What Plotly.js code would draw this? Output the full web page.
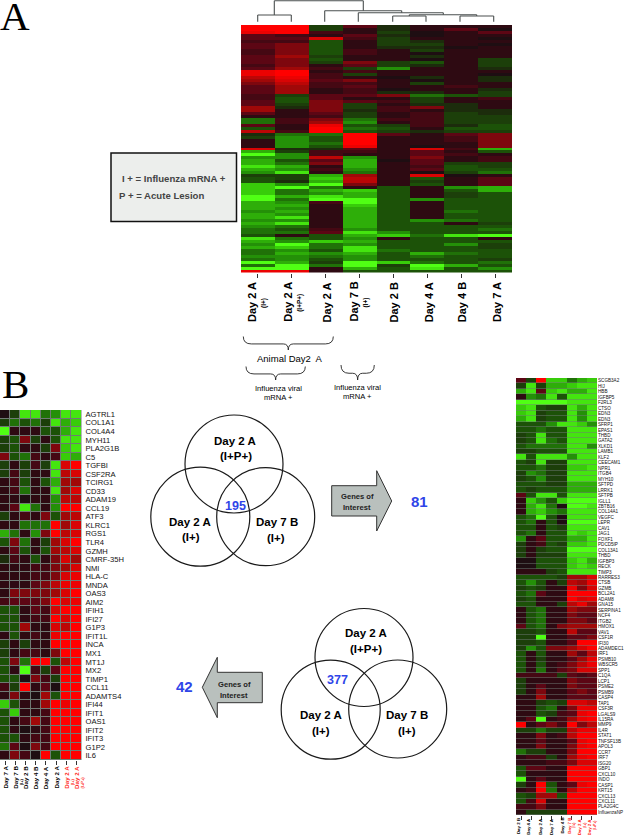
<!DOCTYPE html>
<html><head><meta charset="utf-8">
<script src="https://cdn.plot.ly/plotly-3.0.1.min.js"></script>
<style>html,body{margin:0;padding:0;background:#fff}</style>
</head><body><div id="chart" style="width:624px;height:835px"></div>
<script>
// ---------- data ----------
const topColumns = ['Day 2 A','Day 2 A','Day 2 A','Day 7 B','Day 2 B','Day 4 A','Day 4 B','Day 7 A'];
const topColumnNotes = ['(I+)','(I+P+)','','(I+)','','','',''];
const topValues = [
[9,9,-2,3,-1,1,1,1],[9,9,-2,1,-1,1,3,0],[8,9,2,1,-2,0,1,3],[3,2,1,3,-1,0,1,1],[3,3,7,2,-2,1,1,0],
[2,2,-3,1,-2,-1,1,1],[3,4,-3,1,-2,-2,1,0],[3,4,-3,1,-1,-1,0,1],[2,4,-3,2,1,-2,1,1],
[2,4,-3,2,1,0,1,1],[3,5,-2,1,1,-1,1,1],[3,4,-3,1,1,0,1,-2],[3,4,-2,4,-2,-3,1,-2],[2,4,1,3,-2,-1,1,-2],
[3,5,2,-2,-5,1,1,-1],[8,9,1,2,1,1,1,1],[8,9,2,-2,1,1,1,0],[6,8,2,1,0,-1,1,-1],[5,7,3,4,1,0,1,-1],
[4,6,2,2,1,-2,1,1],[3,5,2,3,1,1,2,1],[3,5,1,2,0,1,1,-1],[3,5,1,2,-1,-1,1,-2],
[2,-2,3,3,4,-4,-3,-2],[2,-3,3,1,1,-2,1,2],[3,-3,4,3,2,-2,1,1],[3,-2,4,-2,1,-1,-1,1],
[5,-1,4,-2,2,4,-1,1],[5,1,4,-1,2,1,-1,-1],[3,1,3,-2,1,2,-2,-1],[1,1,2,-2,1,2,-2,-2],[-4,2,4,-4,2,2,-2,-2],
[-4,2,5,-5,1,2,-2,-2],[3,1,8,-3,-2,2,-1,-3],[-3,1,9,-4,-3,1,-3,-3],[6,2,9,-3,-2,-1,-2,-2],
[-1,-4,-4,9,3,1,3,4],[-2,-5,-3,9,1,1,2,4],[1,-5,-3,9,1,1,2,4],[1,-5,-4,9,1,1,1,4],[1,-5,-3,8,1,0,1,4],
[7,-1,-1,3,1,7,2,-6],[-6,-2,2,2,1,3,1,-3],[-9,-5,2,1,1,3,2,1],[-5,-5,6,-5,1,4,1,2],[-6,-3,3,-6,0,3,1,2],
[-6,-4,4,-6,1,3,-2,-2],[-8,-6,1,-6,1,2,-3,-2],[-6,-5,2,-5,1,3,-3,-3],[-5,-8,1,-4,1,0,-2,-4],[-2,-2,-6,5,1,7,0,1],
[-3,-2,-7,6,1,-3,1,3],[-3,-1,-6,6,1,-2,1,3],[-7,-5,-9,4,1,-3,1,3],[-7,-9,-4,1,-3,1,-5,-6],[-7,-4,-6,-7,-3,1,-3,-6],
[-7,-4,-5,-6,-3,1,-2,-3],[-9,-6,-8,-6,-3,1,-2,-3],[-9,-4,-9,-9,-3,-5,-3,-3],[-6,-5,2,-9,-3,1,-3,-3],[-6,-6,1,-7,-3,1,-3,-3],[-6,-5,1,-6,-3,1,-3,-3],
[-5,-6,1,-6,-3,1,-4,-3],[-6,-5,1,-6,-3,1,-3,-3],[-6,-8,1,-6,-3,1,-3,-3],[-5,-5,1,-6,-3,-5,-4,-3],[-6,-8,1,-6,-3,-3,1,-2],[-5,-4,1,-6,-3,-3,-3,-3],[-4,-3,2,-5,-3,-3,-3,-4],
[-4,-4,3,-8,-5,-3,-3,-3],[-3,1,-3,-6,-7,-4,-8,-9],[-8,-4,-3,-5,1,-3,-3,1],[-6,-5,-7,-6,-3,-3,-3,-3],[-5,-9,-4,-5,-3,-3,-5,-2],
[-6,-7,-4,-8,-3,-3,-3,-2],[-4,-5,-3,-8,-4,-3,-3,-3],[-4,-6,-5,-6,-3,-6,-4,-3],[-5,-5,-4,-5,-3,-4,-3,-3],[-4,-5,-3,-5,-3,-3,-3,-2],[-9,-6,-2,-9,-7,-4,-3,-4],
[-4,-9,-4,-9,-2,-9,-6,-3],[-9,-9,1,-6,-3,-8,-3,-5],[8,8,1,-3,-3,-3,-3,-3]
];

const leftGenes = ['AGTRL1','COL1A1','COL4A4','MYH11','PLA2G1B','C5','TGFBI','CSF2RA','TCIRG1','CD33','ADAM19','CCL19','ATF3','KLRC1','RGS1','TLR4','GZMH','CMRF-35H','NMI','HLA-C','MNDA','OAS3','AIM2','IFIH1','IFI27','G1P3','IFIT1L','INCA','MX1','MT1J','MX2','TIMP1','CCL11','ADAMTS4','IFI44','IFIT1','OAS1','IFIT2','IFIT3','G1P2','IL6'];
const leftColumns = ['Day 7 A','Day 7 B','Day 2 B','Day 4 B','Day 4 A','Day 2 A','Day 2 A','Day 2 A'];
const leftColumnNotes = ['','(I+)','','','','','(I+)','(I+P+)'];
const leftValues = [
[0,-2,-8,-8,-4,-5,-8,-8],[-2,-4,-3,-4,-2,-8,-6,-7],[-9,1,1,1,-3,-3,-6,-8],[-2,-3,4,-2,1,-3,-8,-8],[-2,-3,1,1,-2,4,-7,-8],
[4,-3,-4,2,1,2,-7,-6],[-2,1,-2,2,-2,-8,7,9],[-2,2,-2,1,1,-8,6,7],[1,2,-3,1,-3,-6,5,5],[1,2,-4,1,1,-8,5,7],
[1,1,0,1,1,-5,6,6],[1,3,-8,-4,1,-5,9,9],[-2,1,2,1,4,-3,5,6],[1,1,-4,-4,-4,9,5,7],[-6,-4,1,-5,4,9,6,7],
[-3,4,-4,1,-2,5,7,9],[1,3,-3,1,-3,5,6,7],[-1,2,1,-3,1,4,7,5],[1,1,1,2,2,4,5,7],[1,1,1,2,2,4,7,8],
[1,1,1,3,4,6,8,8],[1,4,4,4,4,5,7,9],[2,3,3,3,4,9,7,8],[-3,-3,1,3,2,7,9,9],[-3,-3,1,2,2,9,7,9],
[-3,-3,5,1,1,7,6,9],[1,-3,1,2,1,8,9,9],[-2,1,-2,1,1,9,9,9],[-2,1,2,2,1,4,9,9],[-3,4,-4,9,9,-3,6,9],
[-3,1,-9,2,-2,3,9,9],[-3,-3,0,4,2,-2,9,9],[2,-2,9,1,3,0,9,9],[1,4,1,0,5,-3,9,9],[-7,-3,1,1,5,9,8,9],
[-3,-7,1,1,2,9,9,9],[-3,1,2,5,2,9,9,9],[-3,1,0,1,2,9,9,9],[-3,-3,1,2,2,9,9,9],[-4,3,0,4,2,9,9,9],[1,4,2,0,9,-3,9,9]
];

const rightGenes = ['SCGB3A2','HIJ','HBB','IGFBP5','F2RL3','CTSO','EDN3','EDN3','SFRP1','EPAS1','THBD','GATA2','XLKD1','LAMB1','KLF2','CEECAM1','NPR1','ITGB4','MYH10','SFTPD','LRRK1','SFTPB','IGLL1','ZBTB16','COL14A1','VEGFC','LEPR','CAV1','JAG1','FOXF1','PDCD5IP','COL13A1','THBD','IGFBP3','RECK','TIMP3','RARRES3','CTSB','GZMB','BCL2A1','ADAM8','GNA15','SERPINA1','NCF4','ITGB2','HMOX1','VAV1','CSF1R','IFI30','ADAMDEC1','IRF1','PSMB10','WBSCR5','SPP1','C1QA','LCP1','PSME2','PSMB9','CASP4','TAP1','CSF3R','LGALS9','IL15RA','MMP9','IL4R','STAT1','TNFSF13B','APOL3','CCR7','IRF7','ISG20','GBP1','CXCL10','INDO','CASP1','KRT15','CXCL13','CXCL11','PLA2G4C','InfluenzaNP'];
const rightColumns = ['Day 2 B','Day 4 A','Day 2 A','Day 7 A','Day 4 B','Day 7 B','Day 2 A','Day 2 A'];
const rightColumnNotes = ['','','','','','(I+)','(I+)','(I+P+)'];
const rightValues = [
[3,-2,9,-7,-7,-4,-6,-7],[-2,-8,-2,-6,-6,-7,-8,-8],[-6,-8,3,-7,-8,-6,-6,-8],[1,-5,-4,-8,-3,-8,-8,-8],[-9,-9,-9,-9,-9,-8,-8,-8],
[-7,-8,-3,-2,-2,-8,-6,-8],[-7,-8,-2,-3,-3,-8,-5,-8],[-6,-8,-2,-3,-3,-8,-5,-8],[-3,-3,-3,-5,-8,-8,-7,-5],[-3,-3,-4,-3,-3,-8,-8,-8],
[-2,-3,-8,-3,-3,-8,-8,-8],[-2,-3,-8,-4,-3,-8,-8,-8],[-3,-4,-4,-4,-4,-8,-8,-5],[-2,-2,-3,-3,-3,-8,-8,-8],[-8,-3,-8,-8,-8,-5,-8,-8],
[-3,-2,-8,-2,-2,-8,-8,-8],[-3,-3,-4,-2,-2,-7,-7,-8],[-2,-5,-4,-2,-2,-8,-8,-8],[-2,-3,-5,-2,-2,-8,-8,-8],[-3,-3,-3,-2,-2,-6,-6,-6],
[-3,-2,-3,-3,-3,-6,-6,-6],[3,-3,-8,-8,-3,-8,-8,-8],[1,-7,-5,-3,-7,-9,-9,-9],[1,-6,-8,-4,0,-9,-9,-8],[1,-6,-7,-5,-4,-8,-8,-8],
[-3,-4,-9,-3,0,-8,-8,-8],[-3,-4,1,-3,0,-9,-9,-9],[-3,-3,1,-3,-2,-8,-8,-8],[-3,-4,1,-3,-3,-8,-7,-8],[-5,1,3,-3,-3,-6,-6,-8],
[-2,1,2,-3,-2,-7,-7,-8],[-2,1,-2,-3,-3,-9,-9,-9],[-2,1,-2,-2,-2,-8,-8,-8],[0,0,-3,-3,-3,-7,-8,-6],[0,0,-3,-3,-3,-7,-8,-7],
[1,1,1,-2,-3,-8,-8,-8],[-3,-3,-3,-3,-2,5,5,7],[-3,-5,-3,1,-2,6,5,8],[-2,-3,-2,1,1,8,4,7],[-3,-4,3,1,1,9,9,9],
[-2,-3,1,1,1,9,7,8],[-3,-3,1,1,-2,6,8,5],[1,-3,-4,1,1,5,4,4],[1,-3,-4,1,1,4,3,3],[1,-3,-4,1,1,4,4,3],
[3,-3,-4,1,4,5,5,5],[-2,-2,-3,1,1,6,3,3],[-2,-2,-9,1,1,3,3,4],[-2,-2,-3,1,1,3,9,9],[-2,-5,-3,4,4,5,7,9],
[-3,1,-3,1,1,5,3,6],[-3,1,-2,1,1,3,5,8],[-3,1,-3,1,2,4,6,8],[-3,1,-4,1,3,4,7,7],[2,2,2,2,-2,3,2,3],
[-2,1,1,1,1,4,3,3],[-2,1,3,1,1,4,3,3],[-2,1,4,1,1,3,4,3],[1,1,5,1,1,3,3,3],[1,1,-2,-3,-2,7,7,6],
[1,1,-3,-4,1,4,8,8],[1,1,-3,-2,2,3,8,9],[1,3,-9,1,2,5,8,9],[9,1,3,4,2,9,4,6],[-2,-2,-4,-2,-2,6,8,8],
[1,1,4,1,2,6,9,9],[1,1,3,1,1,3,8,9],[1,1,4,1,1,4,8,9],[-4,-2,-2,1,1,4,9,9],[1,2,2,-2,1,5,8,9],
[1,1,1,2,2,4,7,7],[-3,3,3,1,1,9,9,9],[-3,1,1,1,1,9,9,9],[-9,1,3,1,1,9,9,9],[-2,1,9,-3,1,3,8,9],
[1,2,9,-4,1,6,9,9],[-3,-2,5,5,-3,9,9,9],[-3,2,7,1,1,9,9,9],[2,2,4,1,1,9,9,9],[1,-2,-2,-2,-2,9,9,9]
];

// ---------- page geometry ----------
const W = 624, H = 835;
const SANS = 'Liberation Sans, Arial, sans-serif';
const RED = '#ff2a1a', BLUE = '#2f45e8';
const colorscale = [[0,'#50ff14'],[0.111,'#38cc0a'],[0.222,'#249008'],[0.333,'#1c5208'],[0.444,'#1c2c0c'],[0.5,'#1e0e12'],
  [0.556,'#2e0a12'],[0.667,'#5c0614'],[0.778,'#a00808'],[0.889,'#d80404'],[1,'#ff0000']];
const xDom = (a,b) => [a/W, b/W];
const yDom = (top,bottom) => [1-bottom/H, 1-top/H];
const idx = n => Array.from({length:n},(_,i)=>i);

const panels = {
  top:   {x:[241,512], y:[25,272.5]},
  left:  {x:[0,81.5],  y:[410,760]},
  right: {x:[516,597], y:[378,815]}
};

function heat(z, xa, ya, xgap, ygap){
  return {type:'heatmap', z:z, x:idx(z[0].length), y:idx(z.length), xaxis:xa, yaxis:ya,
    colorscale:colorscale, zmin:-9, zmax:9, showscale:false, xgap:xgap, ygap:ygap, hoverinfo:'skip'};
}

// dendrogram, in page pixels on the overlay axes
const dendroSegments = [
 [274.3,0.7,363.3,0.7],[274.3,0.7,274.3,15],[363.3,0.7,363.3,10.7],
 [257.7,15,291.3,15],[257.7,15,257.7,21.7],[291.3,15,291.3,21.7],
 [324.7,10.7,401.7,10.7],[324.7,10.7,324.7,21.7],[401.7,10.7,401.7,12.7],
 [358.3,12.7,443.3,12.7],[358.3,12.7,358.3,21.7],[443.3,12.7,443.3,14.7],
 [409.3,14.7,476.7,14.7],[409.3,14.7,409.3,16],[476.7,14.7,476.7,16],
 [392.7,16,426,16],[392.7,16,392.7,21.7],[426,16,426,21.7],
 [460,16,493.7,16],[460,16,460,21.7],[493.7,16,493.7,21.7]
];
const dendroX = [], dendroY = [];
dendroSegments.forEach(s=>{dendroX.push(s[0],s[2],null);dendroY.push(s[1],s[3],null);});

const traces = [
  heat(topValues,'x','y',0,0),
  heat(leftValues,'x2','y2',1,1),
  heat(rightValues,'x3','y3',0,0.5),
  {type:'scatter',mode:'lines',x:dendroX,y:dendroY,xaxis:'x4',yaxis:'y4',line:{color:'#4a4f4f',width:1.1},hoverinfo:'skip',showlegend:false}
];

function hAxis(p,anchor){
  return {domain:xDom(p.x[0],p.x[1]), range:[-0.5,7.5], anchor:anchor, showgrid:false, zeroline:false,
    tickmode:'array', tickvals:idx(8), ticktext:idx(8).map(()=>''), ticks:'outside', ticklen:4, tickwidth:1, tickcolor:'#333', showline:false};
}
function vAxis(p,anchor,genes,size,standoff){
  const a = {domain:yDom(p.y[0],p.y[1]), anchor:anchor, showgrid:false, zeroline:false, showline:false};
  if(genes){
    a.range=[genes.length-0.5,-0.5]; a.side='right'; a.tickmode='array'; a.tickvals=idx(genes.length); a.ticktext=genes;
    a.ticks=''; a.ticklabelstandoff=standoff; a.tickfont={family:SANS,size:size,color:'#111'};
  } else { a.range=[topValues.length-0.5,-0.5]; a.showticklabels=false; a.ticks=''; }
  return a;
}

const annotations = [];
function px(text,x,y,o){
  annotations.push(Object.assign({text:text,x:x,y:y,xref:'x4',yref:'y4',showarrow:false,xanchor:'center',yanchor:'middle',
    font:{family:SANS,size:12,color:'#000'}},o||{}));
}
function b(t){return '<b>'+t+'</b>';}

// panel letters
px('A',15,15.5,{font:{family:'Liberation Serif, serif',size:41,color:'#000'}});
px('B',15,384,{font:{family:'Liberation Serif, serif',size:41,color:'#000'}});

// rotated column labels
function colLabels(cols,notes,xa,pixelTop,size,noteSize,labelShift,noteShift,noteY,redFrom){
  cols.forEach((c,i)=>{
    const col = i>=redFrom ? RED : '#000';
    annotations.push({text:b(c),x:i,y:pixelTop,xref:xa,yref:'y4',showarrow:false,textangle:-90,xanchor:'center',yanchor:'top',xshift:labelShift[i],
      font:{family:SANS,size:size,color:col},borderpad:0});
    if(notes[i]) annotations.push({text:b(notes[i]),x:i,y:noteY,xref:xa,yref:'y4',showarrow:false,textangle:-90,xanchor:'center',yanchor:'middle',xshift:labelShift[i]+noteShift,
      font:{family:SANS,size:noteSize,color:col},borderpad:0});
  });
}
colLabels(topColumns,topColumnNotes,'x',281,11,6.5,[-6,-4,1.7,-6,1,2,1,2],12,303,99);
colLabels(leftColumns,leftColumnNotes,'x2',765,6.2,4,[0,0,0,0,0,0,0,0],6,782,6);
colLabels(rightColumns,rightColumnNotes,'x3',817,4.4,3.4,[-3,-3,-1,0,0,-3,-2,-2],5,825,5);

// legend box text
px(b('I + = Influenza mRNA +'),174,178.5,{font:{family:SANS,size:9.6,color:'#444'}});
px(b('P + = Acute Lesion'),161.5,195.5,{font:{family:SANS,size:9.6,color:'#444'}});

// brace labels
px('Animal Day2  A',289.5,358.5,{font:{family:SANS,size:9.5,color:'#000'}});
px('Influenza viral',278.7,388,{font:{family:SANS,size:7.6,color:'#000'}});
px('mRNA +',278.7,397.5,{font:{family:SANS,size:7.6,color:'#000'}});
px('Influenza viral',357.7,387.3,{font:{family:SANS,size:7.6,color:'#000'}});
px('mRNA +',357.7,396.8,{font:{family:SANS,size:7.6,color:'#000'}});

// Venn labels
const venn = (t,x,y)=>px(b(t),x,y,{font:{family:SANS,size:11.5,color:'#000'}});
venn('Day 2 A',235,441);venn('(I+P+)',235.7,456);venn('Day 2 A',190,522);venn('(I+)',190.7,537);venn('Day 7 B',276.7,522);venn('(I+)',276,537.7);
venn('Day 2 A',365.7,633);venn('(I+P+)',365.7,649);venn('Day 2 A',320.7,715);venn('(I+)',321,730.7);venn('Day 7 B',406.7,715);venn('(I+)',406.7,730.7);
const count = (t,x,y,s)=>px(b(t),x,y,{font:{family:SANS,size:s,color:BLUE}});
count('195',235,506,12.5);count('377',337,680,12.5);count('81',419,501.7,15);count('42',184.3,686.7,15);
const arrowText=(t,x,y)=>px(b(t),x,y,{font:{family:SANS,size:7.6,color:'#222'}});
arrowText('Genes of',357,496.7);arrowText('Interest',356.7,507);arrowText('Genes of',234,684.3);arrowText('Interest',233.7,695);

// shapes
const shapes = [];
const ov = {xref:'x4',yref:'y4'};
function circle(cx,cy,r){shapes.push(Object.assign({type:'circle',x0:cx-r,x1:cx+r,y0:cy-r,y1:cy+r,line:{color:'#1a1a1a',width:1.2}},ov));}
circle(234,464,49);circle(200.3,516.7,49.5);circle(265.7,516.7,49);
circle(364,657.5,49);circle(330.7,709.7,49.5);circle(397.7,709,49);
function path(d,o){shapes.push(Object.assign({type:'path',path:d},ov,o));}
const arrowStyle={fillcolor:'#b9c0bd',line:{color:'#333',width:1}};
path('M331.7,485.7 L376.7,485.7 L376.7,470.7 L391.7,501 L376.7,531 L376.7,516 L331.7,516 Z',arrowStyle);
path('M262.3,672.3 L217.3,672.3 L217.3,657.3 L202.3,687.3 L217.3,717.7 L217.3,702.7 L262.3,702.7 Z',arrowStyle);
// legend box
shapes.push(Object.assign({type:'rect',x0:111,x1:236.5,y0:153,y1:221.5,fillcolor:'#eceeec',line:{color:'#111',width:1.5},layer:'below'},ov));
// grey grid behind the two gene panels
shapes.push({type:'rect',xref:'paper',yref:'paper',x0:panels.left.x[0]/W,x1:panels.left.x[1]/W,y0:yDom(...panels.left.y)[0],y1:yDom(...panels.left.y)[1],fillcolor:'#6f7a74',line:{width:0},layer:'below'});
shapes.push({type:'rect',xref:'paper',yref:'paper',x0:panels.right.x[0]/W,x1:panels.right.x[1]/W,y0:yDom(...panels.right.y)[0],y1:yDom(...panels.right.y)[1],fillcolor:'#6f7a74',line:{width:0},layer:'below'});
// braces
const braceLine={fillcolor:'rgba(0,0,0,0)',line:{color:'#222',width:0.9}};
function brace(x0,x1,top,bot){
  const m=(x0+x1)/2, s=top+(bot-top)*0.55;
  path(`M${x0},${top} Q${x0},${s} ${x0+8},${s} L${m-5},${s} Q${m},${s} ${m},${bot} Q${m},${s} ${m+5},${s} L${x1-8},${s} Q${x1},${s} ${x1},${top}`,braceLine);
}
brace(243.3,333.3,336.5,350);brace(246,305.3,366.5,380);brace(341,374.3,365,380);

const layout = {
  width:W,height:H,margin:{l:0,r:0,t:0,b:0,pad:0},paper_bgcolor:'#fff',plot_bgcolor:'rgba(0,0,0,0)',showlegend:false,
  xaxis:hAxis(panels.top,'y'), yaxis:vAxis(panels.top,'x'),
  xaxis2:hAxis(panels.left,'y2'), yaxis2:vAxis(panels.left,'x2',leftGenes,7.6,3),
  xaxis3:hAxis(panels.right,'y3'), yaxis3:vAxis(panels.right,'x3',rightGenes,4.6,1.5),
  xaxis4:{domain:[0,1],range:[0,W],anchor:'y4',visible:false,fixedrange:true},
  yaxis4:{domain:[0,1],range:[H,0],anchor:'x4',visible:false,fixedrange:true},
  shapes:shapes, annotations:annotations
};
Plotly.newPlot('chart',traces,layout,{displayModeBar:false,staticPlot:true});
</script></body></html>
